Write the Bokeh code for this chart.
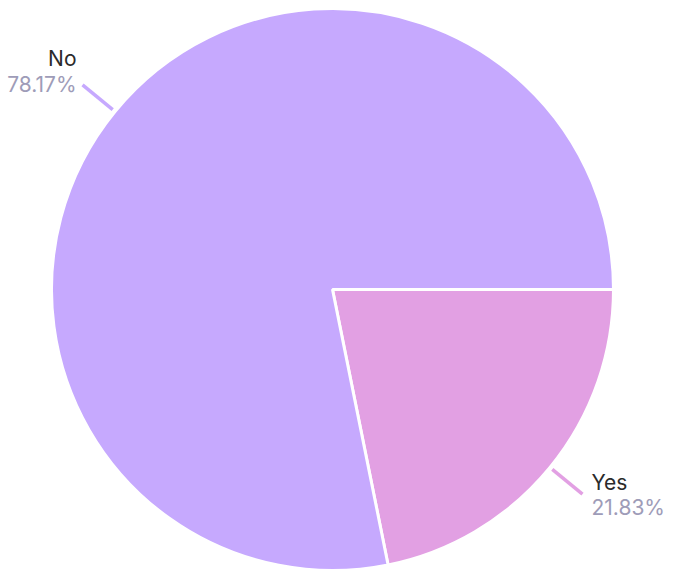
import math
from bokeh.plotting import figure
from bokeh.models import Range1d, ColumnDataSource
from bokeh.core.properties import value
from bokeh.embed import file_html
from bokeh.resources import INLINE

categories = ["Yes", "No"]
percentages = [21.83, 78.17]
colors = ["#e2a0e3", "#c6a9fe"]

W, H = 667, 572
cx, cy, r = 332, 283, 281

p = figure(width=W, height=H, x_range=Range1d(0, W), y_range=Range1d(0, H),
           output_backend="svg", toolbar_location=None, min_border=0)
p.axis.visible = False
p.grid.visible = False
p.outline_line_color = None
p.background_fill_color = "white"

total = sum(percentages)
starts, ends = [], []
a = 0.0
for v in percentages:
    da = v / total * 2 * math.pi
    starts.append(a - da)
    ends.append(a)
    a -= da

src = ColumnDataSource(dict(start=starts, end=ends, color=colors))
p.wedge(x=cx, y=cy, radius=r, start_angle="start", end_angle="end",
        fill_color="color", line_color="white", line_width=3, source=src)

font = value("Inter")
for cat, v, s, e, col in zip(categories, percentages, starts, ends, colors):
    mid = (s + e) / 2
    c, sn = math.cos(mid), math.sin(mid)
    x0, y0 = cx + (r + 3) * c, cy + (r + 3) * sn
    x1, y1 = cx + (r + 42) * c, cy + (r + 42) * sn
    p.line([x0, x1], [y0, y1], line_color=col, line_width=3.5)
    pct = f"{v:.2f}%"
    if c < 0:
        tx = x1 - 6
        align = "right"
        ny, py = y1 + 26, y1
    else:
        tx = x1 + 9
        align = "left"
        ny, py = y1 + 12, y1 - 13
    p.text(x=[tx], y=[ny], text=[cat], text_font=font, text_font_size="21px",
           text_color="#2b2b2b", text_align=align, text_baseline="middle")
    p.text(x=[tx], y=[py], text=[pct], text_font=font, text_font_size="21px",
           text_color="#9e9cb8", text_align=align, text_baseline="middle")

open("out.html", "w").write(file_html(p, INLINE))
